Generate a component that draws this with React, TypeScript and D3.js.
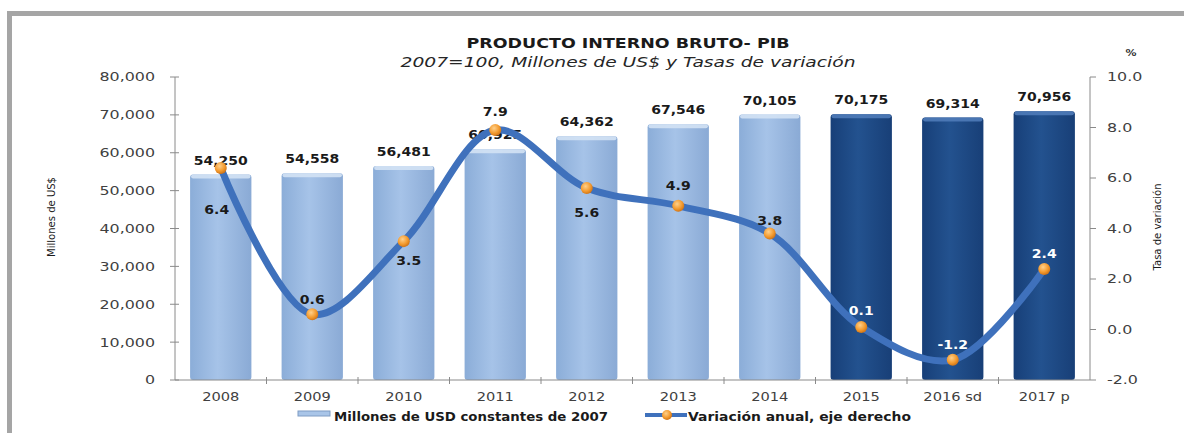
import React from 'react';
import * as d3 from 'd3';

const years = ['2008', '2009', '2010', '2011', '2012', '2013', '2014', '2015', '2016 sd', '2017 p'];
const pib = [54250, 54558, 56481, 60925, 64362, 67546, 70105, 70175, 69314, 70956];
const variacion = [6.4, 0.6, 3.5, 7.9, 5.6, 4.9, 3.8, 0.1, -1.2, 2.4];
const leftTicks = [0, 10000, 20000, 30000, 40000, 50000, 60000, 70000, 80000];
const rightTicks = [-2, 0, 2, 4, 6, 8, 10];
const darkYears = ['2015', '2016 sd', '2017 p'];

// label placement for the line values (px from the point, + is below)
const varLabelDy = [42, -14, 20, -18, 25, -20, -13, -16, -15, -15];

const FONT = '"DejaVu Sans", Verdana, sans-serif';
const SX = 1.22; // the original text is drawn wide

const margin = { top: 77, right: 94, bottom: 53, left: 175 };
const W = 1184;
const H = 433;

// hyphen minus, as in the original (d3.format gives U+2212)
const dec1 = (v: number) => v.toFixed(1);

function T({ x, y, children, size = 12, weight = 'normal', fill = '#404040', anchor = 'middle', sx = SX }: any) {
  return (
    <text
      transform={`translate(${x},${y}) scale(${sx},1)`}
      textAnchor={anchor}
      dominantBaseline="central"
      fontFamily={FONT}
      fontSize={size}
      fontWeight={weight}
      fill={fill}
    >
      {children}
    </text>
  );
}

export default function App() {
  const x = d3
    .scaleBand()
    .domain(years)
    .range([margin.left, W - margin.right])
    .paddingInner(0.33)
    .paddingOuter(0.165);
  const xStep = d3.scaleBand().domain(years).range([margin.left, W - margin.right]);
  const yL = d3.scaleLinear().domain([0, 80000]).range([H - margin.bottom, margin.top]);
  const yR = d3.scaleLinear().domain([-2, 10]).range([H - margin.bottom, margin.top]);

  const line = d3
    .line<number>()
    .x((_, i) => xStep(years[i])! + xStep.bandwidth() / 2)
    .y(d => yR(d))
    .curve(d3.curveCatmullRom.alpha(0.5));

  const fmt = d3.format(',');
  const x0 = margin.left;
  const x1 = W - margin.right;
  const yBase = H - margin.bottom;

  return (
    <svg width={W} height={H} style={{ position: 'absolute', left: 0, top: 0, background: '#fff' }}>
      <defs>
        <linearGradient id="lightBar" x1="0" x2="1" y1="0" y2="0">
          <stop offset="0" stopColor="#8badd8" />
          <stop offset="0.45" stopColor="#a6c3e8" />
          <stop offset="1" stopColor="#8aaad5" />
        </linearGradient>
        <linearGradient id="darkBar" x1="0" x2="1" y1="0" y2="0">
          <stop offset="0" stopColor="#173f78" />
          <stop offset="0.45" stopColor="#23528f" />
          <stop offset="1" stopColor="#183f77" />
        </linearGradient>
        <radialGradient id="marker" cx="0.4" cy="0.35" r="0.7">
          <stop offset="0" stopColor="#ffd08a" />
          <stop offset="0.6" stopColor="#f39a2e" />
          <stop offset="1" stopColor="#c96d12" />
        </radialGradient>
      </defs>

      {/* frame */}
      <rect x={9.5} y={13.5} width={1200} height={450} fill="none" stroke="#a5a5a5" strokeWidth={5} />

      {/* title */}
      <text x={628} y={43} textAnchor="middle" dominantBaseline="central" fontFamily={FONT} fontSize={14} fontWeight="bold" fill="#1a1a1a" textLength={323} lengthAdjust="spacingAndGlyphs">
        PRODUCTO INTERNO BRUTO- PIB
      </text>
      <text x={628} y={62} textAnchor="middle" dominantBaseline="central" fontFamily={FONT} fontSize={14} fontStyle="italic" fill="#262626" textLength={455} lengthAdjust="spacingAndGlyphs">
        2007=100, Millones de US$ y Tasas de variación
      </text>

      {/* bars */}
      {years.map((yr, i) => {
        const dark = darkYears.includes(yr);
        const bx = x(yr)!;
        const bw = x.bandwidth();
        const by = yL(pib[i]);
        return (
          <g key={yr}>
            <rect x={bx} y={by} width={bw} height={yBase - by} rx={3} fill={dark ? 'url(#darkBar)' : 'url(#lightBar)'} />
            <rect x={bx + 1} y={by} width={bw - 2} height={4} rx={2} fill={dark ? '#4f7bb8' : '#d3e2f4'} opacity={0.9} />
          </g>
        );
      })}

      {/* axes */}
      <line x1={x0} x2={x0} y1={margin.top} y2={yBase} stroke="#8a8a8a" />
      <line x1={x1} x2={x1} y1={margin.top} y2={yBase} stroke="#8a8a8a" />
      <line x1={x0} x2={x1} y1={yBase} y2={yBase} stroke="#8a8a8a" />
      {leftTicks.map(t => (
        <g key={t}>
          <line x1={x0 - 5} x2={x0 + 4} y1={yL(t)} y2={yL(t)} stroke="#8a8a8a" />
          <T x={155} y={yL(t)} size={13} anchor="end">
            {fmt(t)}
          </T>
        </g>
      ))}
      {rightTicks.map(t => (
        <g key={t}>
          <line x1={x1} x2={x1 + 6} y1={yR(t)} y2={yR(t)} stroke="#8a8a8a" />
          <T x={1107} y={yR(t)} size={13} anchor="start">
            {dec1(t)}
          </T>
        </g>
      ))}
      {years.slice(1).map(yr => (
        <line key={yr} x1={xStep(yr)!} x2={xStep(yr)!} y1={yBase - 3} y2={yBase + 4} stroke="#8a8a8a" />
      ))}
      {years.map(yr => (
        <T key={yr} x={xStep(yr)! + xStep.bandwidth() / 2} y={397} size={12}>
          {yr}
        </T>
      ))}

      {/* axis titles */}
      <text transform="translate(51,217) rotate(-90)" textAnchor="middle" dominantBaseline="central" fontFamily={FONT} fontSize={11} fill="#1a1a1a" textLength={80} lengthAdjust="spacingAndGlyphs">
        Millones de US$
      </text>
      <text transform="translate(1157,227) rotate(-90)" textAnchor="middle" dominantBaseline="central" fontFamily={FONT} fontSize={11} fill="#1a1a1a" textLength={87} lengthAdjust="spacingAndGlyphs">
        Tasa de variación
      </text>
      <T x={1131} y={53} size={9} weight="bold" fill="#333">
        %
      </T>

      {/* bar labels */}
      {years.map((yr, i) => (
        <T key={yr} x={x(yr)! + x.bandwidth() / 2} y={yL(pib[i]) - 14} size={11.5} weight="bold" fill="#1a1a1a">
          {fmt(pib[i])}
        </T>
      ))}

      {/* line */}
      <path d={line(variacion)!} fill="none" stroke="#3f71bc" strokeWidth={7} strokeLinecap="round" />
      {variacion.map((v, i) => (
        <circle key={i} cx={xStep(years[i])! + xStep.bandwidth() / 2} cy={yR(v)} r={6} fill="url(#marker)" />
      ))}
      {variacion.map((v, i) => (
        <T
          key={i}
          x={xStep(years[i])! + xStep.bandwidth() / 2 + (i === 0 ? -4 : i === 2 ? 5 : 0)}
          y={yR(v) + varLabelDy[i]}
          size={11.5}
          weight="bold"
          fill={darkYears.includes(years[i]) ? '#ffffff' : '#1a1a1a'}
        >
          {dec1(v)}
        </T>
      ))}

      {/* legend */}
      <rect x={298} y={411} width={32} height={5} fill="#a9c5e8" stroke="#7f9cc4" strokeWidth={1} />
      <text x={334} y={417} dominantBaseline="central" fontFamily={FONT} fontSize={11.5} fontWeight="bold" fill="#1a1a1a" textLength={274} lengthAdjust="spacingAndGlyphs">
        Millones de USD constantes de 2007
      </text>
      <line x1={645} x2={687} y1={415} y2={415} stroke="#3f71bc" strokeWidth={4} />
      <circle cx={667} cy={415} r={5} fill="url(#marker)" />
      <text x={688} y={417} dominantBaseline="central" fontFamily={FONT} fontSize={11.5} fontWeight="bold" fill="#1a1a1a" textLength={223} lengthAdjust="spacingAndGlyphs">
        Variación anual, eje derecho
      </text>
    </svg>
  );
}
